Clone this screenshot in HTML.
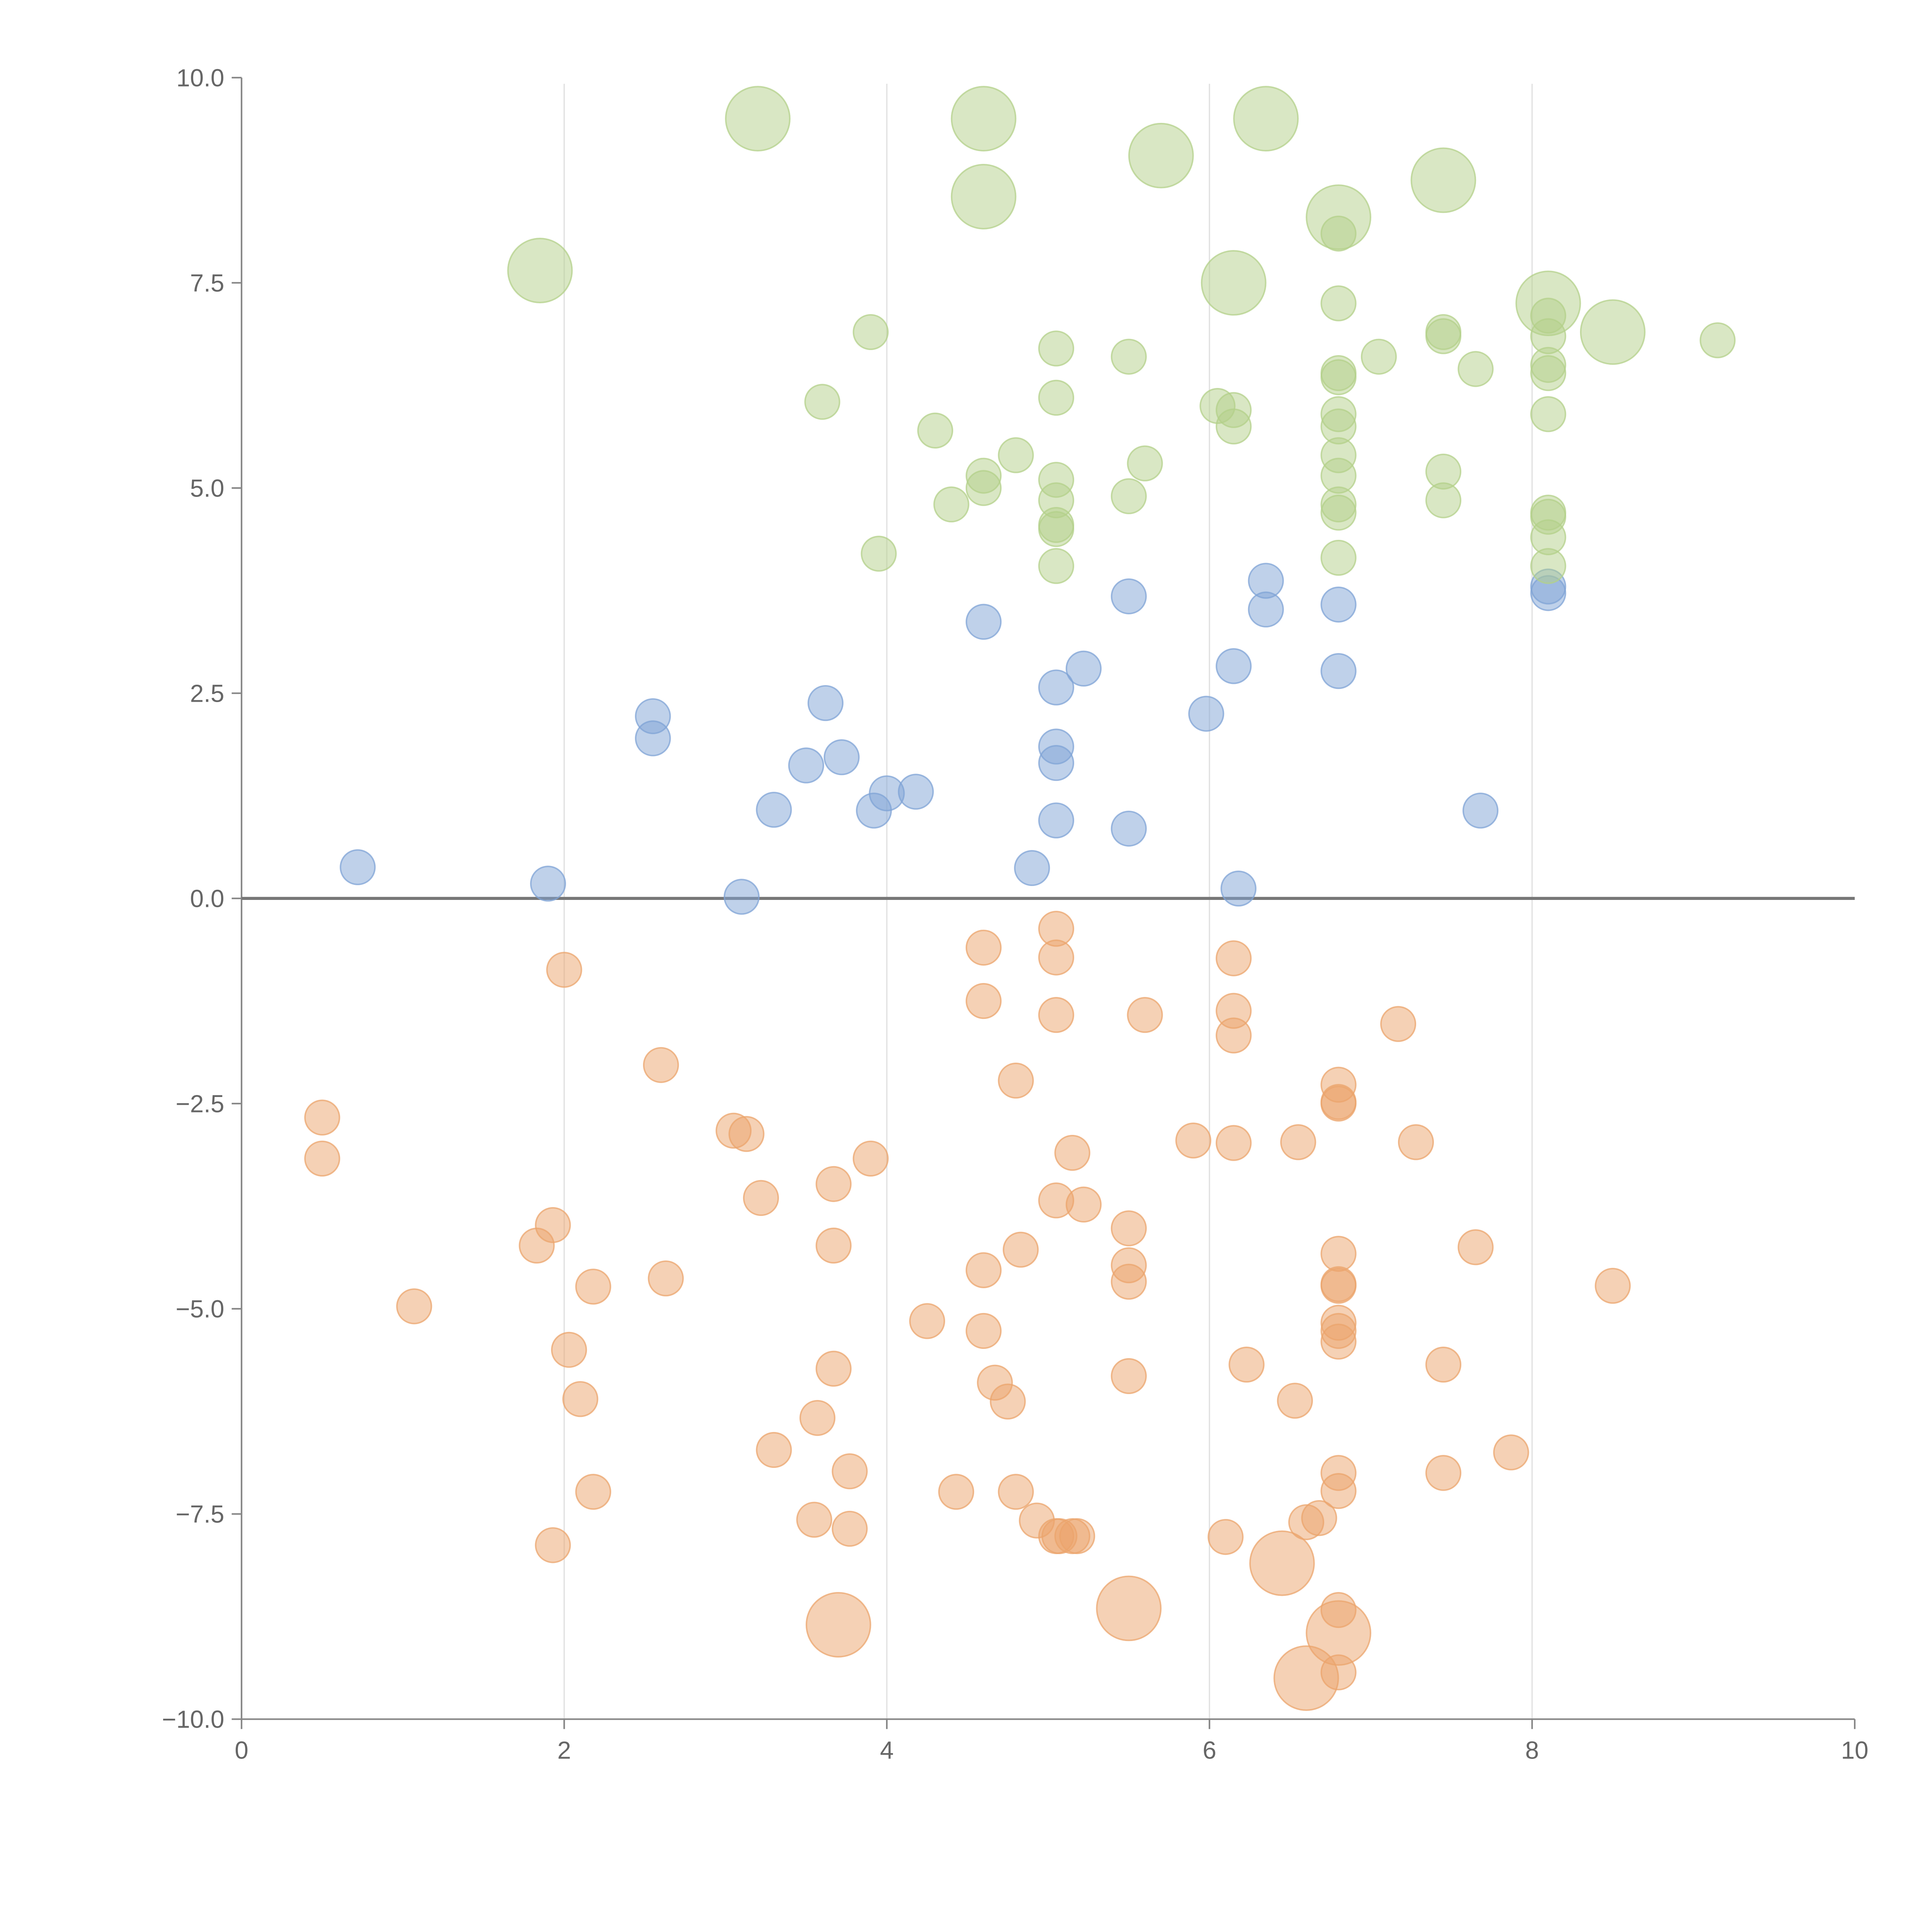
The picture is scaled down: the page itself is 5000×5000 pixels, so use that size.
<!DOCTYPE html>
<html><head><meta charset="utf-8"><style>
html,body{margin:0;padding:0;background:#fff;}
svg{display:block;}
text{font-family:"Liberation Sans",Arial,sans-serif;fill:#666;}
</style></head>
<body>
<svg id="chart" width="5000" height="5000" viewBox="0 0 1567.7 1567.7" xmlns="http://www.w3.org/2000/svg">
<g id="grid"></g>
<g id="axes"></g>
<g id="marks"></g>
</svg>
<script>
const xTicks=[0,2,4,6,8,10];
const yTicks=[10,7.5,5,2.5,0,-2.5,-5,-7.5,-10];
const greenSmallX=[3.9,3.6,3.95,4.3,4.4,4.6,4.6,4.8,5.05,5.05,5.05,5.05,5.05,5.05,5.05,5.5,5.5,5.6,6.05,6.15,6.15,6.8,6.8,6.8,6.8,6.8,6.8,6.8,6.8,6.8,6.8,6.8,7.05,7.45,7.45,7.45,7.45,7.65,8.1,8.1,8.1,8.1,8.1,8.1,8.1,8.1,8.1,9.15];
const greenSmallY=[6.9,6.05,4.2,5.7,4.8,5.15,5.0,5.4,6.7,6.1,5.1,4.85,4.55,4.5,4.05,6.6,4.9,5.3,6.0,5.95,5.75,7.25,8.1,6.4,6.35,5.9,5.75,5.4,5.15,4.8,4.7,4.15,6.6,6.9,6.85,5.2,4.85,6.45,7.1,6.85,6.5,6.4,5.9,4.7,4.65,4.4,4.05,6.8];
const greenLargeX=[3.2,4.6,4.6,5.7,6.35,7.45,6.8,1.85,6.15,8.1,8.5];
const greenLargeY=[9.5,9.5,8.55,9.05,9.5,8.75,8.3,7.65,7.5,7.25,6.9];
const blueX=[0.72,1.9,3.1,2.55,2.55,3.3,3.5,3.62,3.72,3.92,4.0,4.18,4.6,4.9,5.05,5.05,5.05,5.05,5.22,5.5,5.5,5.98,6.15,6.18,6.35,6.35,6.8,6.8,7.68,8.1,8.1];
const blueY=[0.38,0.18,0.02,2.22,1.95,1.08,1.62,2.38,1.72,1.07,1.28,1.3,3.37,0.37,2.57,1.85,1.65,0.95,2.8,3.68,0.85,2.25,2.83,0.12,3.87,3.52,3.58,2.77,1.07,3.8,3.72];
const orangeSmallX=[2.0,0.5,0.5,1.07,1.83,1.93,1.93,2.03,2.1,2.18,2.18,2.6,2.63,3.05,3.13,3.22,3.3,3.55,3.57,3.67,3.67,3.67,3.77,3.77,3.9,4.25,4.43,4.6,4.6,4.6,4.6,4.67,4.75,4.8,4.83,4.8,4.93,5.05,5.05,5.05,5.05,5.05,5.07,5.15,5.15,5.18,5.22,5.5,5.5,5.5,5.5,5.6,5.9,6.1,6.15,6.15,6.15,6.15,6.23,6.53,6.55,6.6,6.68,6.8,6.8,6.8,6.8,6.8,6.8,6.8,6.8,6.8,6.8,6.8,6.8,6.8,7.17,7.28,7.45,7.45,7.65,7.87,8.5];
const orangeSmallY=[-0.87,-2.67,-3.17,-4.97,-4.23,-3.98,-7.88,-5.5,-6.1,-4.73,-7.23,-2.03,-4.63,-2.83,-2.87,-3.65,-6.72,-7.57,-6.33,-3.48,-4.23,-5.73,-6.98,-7.68,-3.17,-5.15,-7.23,-0.6,-1.25,-4.53,-5.27,-5.9,-6.13,-2.22,-4.28,-7.23,-7.58,-0.37,-0.72,-1.42,-3.68,-7.77,-7.77,-3.1,-7.77,-7.77,-3.73,-4.02,-4.47,-4.67,-5.82,-1.42,-2.95,-7.78,-0.73,-1.37,-1.67,-2.98,-5.68,-6.12,-2.97,-7.6,-7.55,-2.27,-2.48,-2.5,-4.33,-4.7,-4.72,-5.17,-5.27,-5.4,-7.0,-7.22,-8.67,-9.43,-1.53,-2.97,-5.68,-7.0,-4.25,-6.75,-4.72];
const orangeLargeX=[3.7,5.5,6.45,6.8,6.6];
const orangeLargeY=[-8.85,-8.65,-8.1,-8.95,-9.5];

const NS="http://www.w3.org/2000/svg";
const X0=196,X1=1505,YT=63,YB=1395;
const sx=v=>X0+(v-0)/10*(X1-X0);
const sy=v=>YT+(10-v)/20*(YB-YT);
function mk(tag,attrs,parent){const e=document.createElementNS(NS,tag);for(const k in attrs)e.setAttribute(k,attrs[k]);parent.appendChild(e);return e;}
const grid=document.getElementById('grid'),axes=document.getElementById('axes'),marks=document.getElementById('marks');

xTicks.forEach(t=>{
  if(t>0&&t<10){const g=mk('line',{x1:sx(t),x2:sx(t),y1:YT+5,y2:YB,stroke:'#e0e0e0','stroke-width':1},grid);
  
  }
  const tk=mk('line',{x1:sx(t),x2:sx(t),y1:YB,y2:YB+8,stroke:'#888','stroke-width':1.3},axes);
  
  
  const lb=mk('text',{x:sx(t),y:YB+32,'font-size':20,'text-anchor':'middle'},axes);
  lb.textContent=String(t);
  
  
});
yTicks.forEach(t=>{
  const tk=mk('line',{x1:X0-8,x2:X0,y1:sy(t),y2:sy(t),stroke:'#888','stroke-width':1.3},axes);
  
  
  const lb=mk('text',{x:X0-14,y:sy(t)+7,'font-size':20,'text-anchor':'end'},axes);
  lb.textContent=(t<0?'\u2212':'')+Math.abs(t).toFixed(1);
  
  
});
const ya=mk('line',{x1:X0,x2:X0,y1:YT,y2:YB,stroke:'#888','stroke-width':1.3},axes);


const xa=mk('line',{x1:X0,x2:X1,y1:YB,y2:YB,stroke:'#888','stroke-width':1.3},axes);


const zl=mk('line',{x1:X0,x2:X1,y1:sy(0),y2:sy(0),stroke:'#777','stroke-width':2.5},axes);



function series(xs,ys,r,color,name){
  xs.forEach((x,i)=>{
    const c=mk('circle',{cx:sx(x),cy:sy(ys[i]),r:r,fill:color,'fill-opacity':0.5,stroke:color,'stroke-opacity':0.75,'stroke-width':1.2},marks);
    
    
  });
}
series(blueX,blueY,14,'#7fa3d6','blue-point');
series(orangeSmallX,orangeSmallY,14,'#eba46c','orange-point');
series(orangeLargeX,orangeLargeY,26,'#eba46c','orange-large-point');
series(greenSmallX,greenSmallY,14,'#b3d08a','green-point');
series(greenLargeX,greenLargeY,26,'#b3d08a','green-large-point');
</script>
</body></html>
